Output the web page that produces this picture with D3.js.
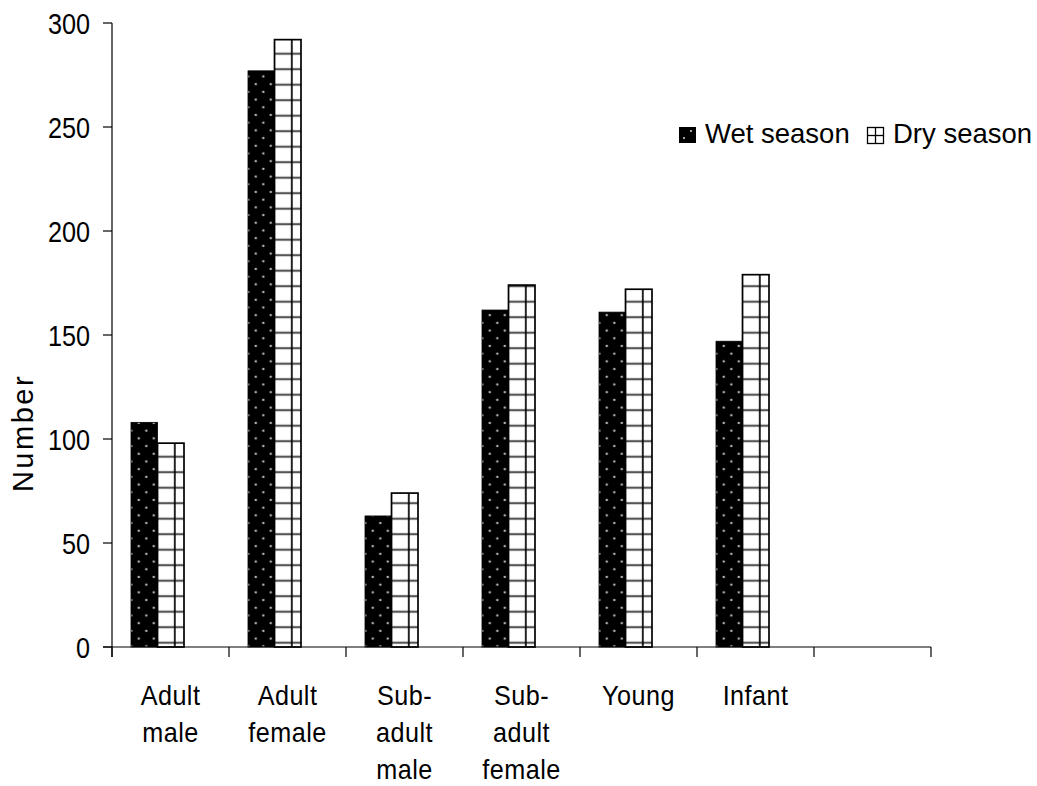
<!DOCTYPE html>
<html>
<head>
<meta charset="utf-8">
<script src="https://cdn.jsdelivr.net/npm/d3@7"></script>
<style>
  html, body { margin: 0; background: #fff; }
  svg { display: block; }
  text { font-family: "Liberation Sans", Arial, sans-serif; fill: #000; }
</style>
</head>
<body>
<svg id="chart" width="1037" height="786"></svg>
<script>
// Group composition counts by season
const categories = ["Adult male", "Adult female", "Sub-adult male", "Sub-adult female", "Young", "Infant", ""];
const categoryLines = [["Adult", "male"], ["Adult", "female"], ["Sub-", "adult", "male"], ["Sub-", "adult", "female"], ["Young"], ["Infant"], []];
const seriesNames = ["Wet season", "Dry season"];
const wetValues = [108, 277, 63, 162, 161, 147];
const dryValues = [98, 292, 74, 174, 172, 179];
const yTicks = [0, 50, 100, 150, 200, 250, 300];

const svg = d3.select("#chart");

const y = d3.scaleLinear().domain([0, 300]).range([647, 23]);
const x = d3.scaleBand().domain(d3.range(categories.length)).range([112, 931]).padding(0);
const xs = d3.scaleBand().domain(seriesNames).range([19, 72]);

// Fill patterns: dotted black for wet, square grid for dry
const defs = svg.append("defs");
const wet = defs.append("pattern")
  .attr("id", "wetFill").attr("patternUnits", "userSpaceOnUse")
  .attr("x", 0.55).attr("y", 11.05).attr("width", 15).attr("height", 15.4);
wet.append("rect").attr("width", 15).attr("height", 15.4).attr("fill", "#000");
[[3.75, 3.85], [11.25, 11.55]].forEach(([cx, cy]) =>
  wet.append("circle").attr("cx", cx).attr("cy", cy).attr("r", 1.1).attr("fill", "#d8d8d8"));

const dry = defs.append("pattern")
  .attr("id", "dryFill").attr("patternUnits", "userSpaceOnUse")
  .attr("x", 0.85).attr("y", -0.55).attr("width", 17.7).attr("height", 15.5);
dry.append("rect").attr("width", 17.7).attr("height", 15.5).attr("fill", "#fff");
dry.append("line").attr("x1", 0).attr("x2", 17.7).attr("y1", 7.75).attr("y2", 7.75)
  .attr("stroke", "#555").attr("stroke-width", 2.2);
dry.append("line").attr("x1", 8.85).attr("x2", 8.85).attr("y1", 0).attr("y2", 15.5)
  .attr("stroke", "#000").attr("stroke-width", 1.7);

// Bars
const rows = wetValues.map((w, i) => ({ i, values: [
  { key: "Wet season", v: w },
  { key: "Dry season", v: dryValues[i] }
]}));

const groups = svg.append("g").selectAll("g").data(rows).join("g")
  .attr("transform", d => `translate(${x(d.i)},0)`);

groups.selectAll("rect").data(d => d.values).join("rect")
  .attr("x", d => xs(d.key))
  .attr("width", xs.bandwidth())
  .attr("y", d => y(d.v))
  .attr("height", d => y(0) - y(d.v))
  .attr("fill", d => d.key === "Wet season" ? "url(#wetFill)" : "url(#dryFill)")
  .attr("stroke", "#000")
  .attr("stroke-width", d => d.key === "Wet season" ? 0.8 : 1.7);

// Y axis
const axis = svg.append("g");
axis.append("line").attr("x1", 112).attr("x2", 112).attr("y1", y(300)).attr("y2", y(0) + 10)
  .attr("stroke", "#333").attr("stroke-width", 1.5);
axis.selectAll(".ytick").data(yTicks).join("line").attr("class", "ytick")
  .attr("x1", 103).attr("x2", 112).attr("y1", d => y(d)).attr("y2", d => y(d))
  .attr("stroke", "#000").attr("stroke-width", 1.2);
axis.selectAll(".ylab").data(yTicks).join("text").attr("class", "ylab")
  .attr("transform", d => `translate(90,${y(d) + 10.5}) scale(0.87,1)`)
  .attr("text-anchor", "end").attr("font-size", 29)
  .text(d => d);

// X axis
axis.append("line").attr("x1", 103).attr("x2", 931).attr("y1", y(0)).attr("y2", y(0))
  .attr("stroke", "#000").attr("stroke-width", 1.2);
const bounds = d3.range(categories.length + 1).map(i => i < categories.length ? x(i) : x(i - 1) + x.bandwidth());
axis.selectAll(".xtick").data(bounds).join("line").attr("class", "xtick")
  .attr("x1", d => d).attr("x2", d => d).attr("y1", y(0)).attr("y2", y(0) + 10)
  .attr("stroke", "#000").attr("stroke-width", 1.2);

const xl = axis.selectAll(".xlab").data(categoryLines).join("g").attr("class", "xlab")
  .attr("transform", (d, i) => `translate(${x(i) + x.bandwidth() / 2},0)`);
xl.selectAll("text").data(d => d).join("text")
  .attr("transform", (d, j) => `translate(0,${705 + j * 37}) scale(0.9,1)`)
  .attr("text-anchor", "middle").attr("font-size", 28).attr("letter-spacing", 0.5)
  .text(d => d);

// Y axis title
svg.append("text")
  .attr("transform", "translate(33,433) rotate(-90)")
  .attr("text-anchor", "middle").attr("font-size", 29).attr("letter-spacing", 2.5)
  .text("Number");

// Legend
const legend = svg.append("g");
legend.append("rect").attr("x", 679).attr("y", 127).attr("width", 17).attr("height", 16)
  .attr("fill", "#000");
legend.append("circle").attr("cx", 684).attr("cy", 138).attr("r", 1).attr("fill", "#d8d8d8");
legend.append("circle").attr("cx", 691).attr("cy", 131).attr("r", 1).attr("fill", "#d8d8d8");
legend.append("text").attr("x", 705).attr("y", 143).attr("font-size", 27.5).text(seriesNames[0]);

legend.append("rect").attr("x", 867.5).attr("y", 127.5).attr("width", 16).attr("height", 16)
  .attr("fill", "#fff").attr("stroke", "#000").attr("stroke-width", 1.3);
legend.append("line").attr("x1", 875.5).attr("x2", 875.5).attr("y1", 127.5).attr("y2", 143.5)
  .attr("stroke", "#000").attr("stroke-width", 1.3);
legend.append("line").attr("x1", 867.5).attr("x2", 883.5).attr("y1", 135.5).attr("y2", 135.5)
  .attr("stroke", "#000").attr("stroke-width", 1.3);
legend.append("text").attr("x", 893).attr("y", 143).attr("font-size", 27.5).text(seriesNames[1]);
</script>
</body>
</html>
